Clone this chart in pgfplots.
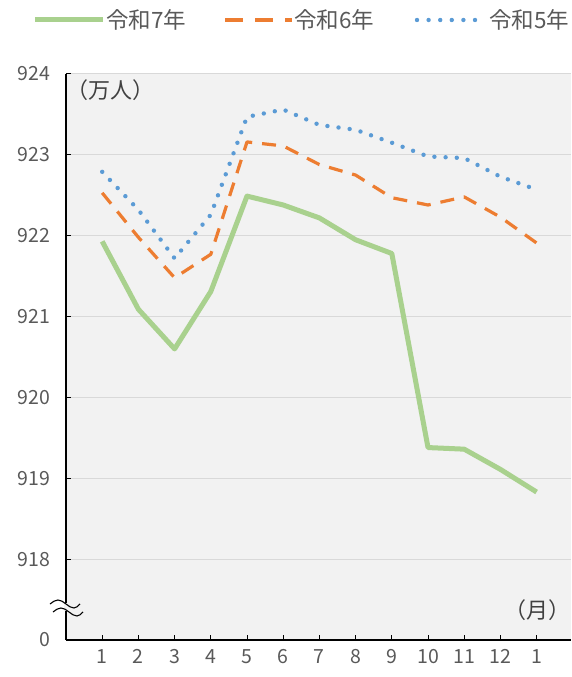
\documentclass[border=0pt]{standalone}
\usepackage{fontspec}
\setmainfont{Noto Sans CJK JP}
\usepackage{pgfplots}
\pgfplotsset{compat=1.18}
\definecolor{g7}{HTML}{A9D18E}
\definecolor{o6}{HTML}{ED7D31}
\definecolor{b5}{HTML}{5B9BD5}
\definecolor{bg}{HTML}{F2F2F2}
\definecolor{grd}{HTML}{D9D9D9}
\definecolor{txt}{HTML}{595959}
\definecolor{dk}{HTML}{404040}
\tikzset{
  s7/.style={g7, line width=5pt, line join=round},
  s6/.style={o6, line width=3.2pt, dash pattern=on 14pt off 10pt, line join=round},
  s5/.style={b5, line width=4.4pt, line cap=round, dash pattern=on 0pt off 11.2pt},
}
\begin{document}
\begin{tikzpicture}
\useasboundingbox (-66pt,-37pt) rectangle (505pt,640pt);
\begin{axis}[
  at={(0pt,0pt)}, anchor=south west,
  scale only axis, width=505pt, height=566pt,
  xmin=0, xmax=13.95, ymin=917, ymax=924,
  axis background/.style={fill=bg},
  axis lines*=left,
  axis line style={-, black, line width=1.2pt},
  xtick={1,...,13}, xticklabels={1,2,3,4,5,6,7,8,9,10,11,12,1},
  ytick={917,918,919,920,921,922,923,924},
  yticklabels={0,918,919,920,921,922,923,924},
  ymajorgrids, grid style={grd, line width=1pt},
  tick align=inside, major tick length=5pt,
  tick style={black, line width=1pt},
  /pgf/number format/assume math mode=true,
  ticklabel style={font=\fontsize{19.5}{22}\selectfont, text=txt},
  xticklabel style={yshift=-6pt},
  yticklabel style={xshift=-12pt},
  clip=false,
]
\addplot[s7]
  coordinates {(1,921.93) (2,921.09) (3,920.60) (4,921.31) (5,922.49) (6,922.38)
  (7,922.22) (8,921.95) (9,921.78) (10,919.38) (11,919.36) (12,919.11) (13,918.83)};
\addplot[s6]
  coordinates {(1,922.53) (2,921.98) (3,921.48) (4,921.77) (5,923.16) (6,923.11)
  (7,922.88) (8,922.75) (9,922.47) (10,922.38) (11,922.48) (12,922.23) (13,921.91)};
\addplot[s5]
  coordinates {(1,922.79) (2,922.32) (3,921.72) (4,922.26) (5,923.47) (6,923.56)
  (7,923.37) (8,923.31) (9,923.15) (10,922.98) (11,922.96) (12,922.73) (13,922.57)};
\end{axis}
% legend
\draw[s7] (-31pt,620pt) -- (37pt,620pt);
\node[anchor=west, inner sep=0pt, text=txt, font=\fontsize{22.5}{26}\selectfont] at (40pt,620pt) {令和7年};
\draw[o6, line width=3.2pt, dash pattern=on 18pt off 12pt] (159pt,620pt) -- (226pt,620pt);
\node[anchor=west, inner sep=0pt, text=txt, font=\fontsize{22.5}{26}\selectfont] at (228pt,620pt) {令和6年};
\draw[b5, line width=4.4pt, line cap=round, dash pattern=on 0pt off 11.6pt] (351pt,620pt) -- (410pt,620pt);
\node[anchor=west, inner sep=0pt, text=txt, font=\fontsize{22.5}{26}\selectfont] at (423pt,620pt) {令和5年};
% axis break symbol
\fill[bg] (-1.5pt,29pt) rectangle (1.5pt,37pt);
\draw[black, line width=1.1pt] (-16pt,36pt) sin (-8pt,40pt) cos (0pt,36pt) sin (8pt,32pt) cos (14pt,36pt);
\draw[black, line width=1.1pt] (-13pt,28pt) sin (-5pt,32pt) cos (3pt,28pt) sin (11pt,24pt) cos (17pt,28pt);
\node[anchor=west, inner sep=0pt, text=dk, font=\fontsize{22}{26}\selectfont] at (0pt,550pt) {（万人）};
\node[anchor=east, inner sep=0pt, text=dk, font=\fontsize{22}{26}\selectfont] at (505pt,30pt) {（月）};
\end{tikzpicture}
\end{document}
